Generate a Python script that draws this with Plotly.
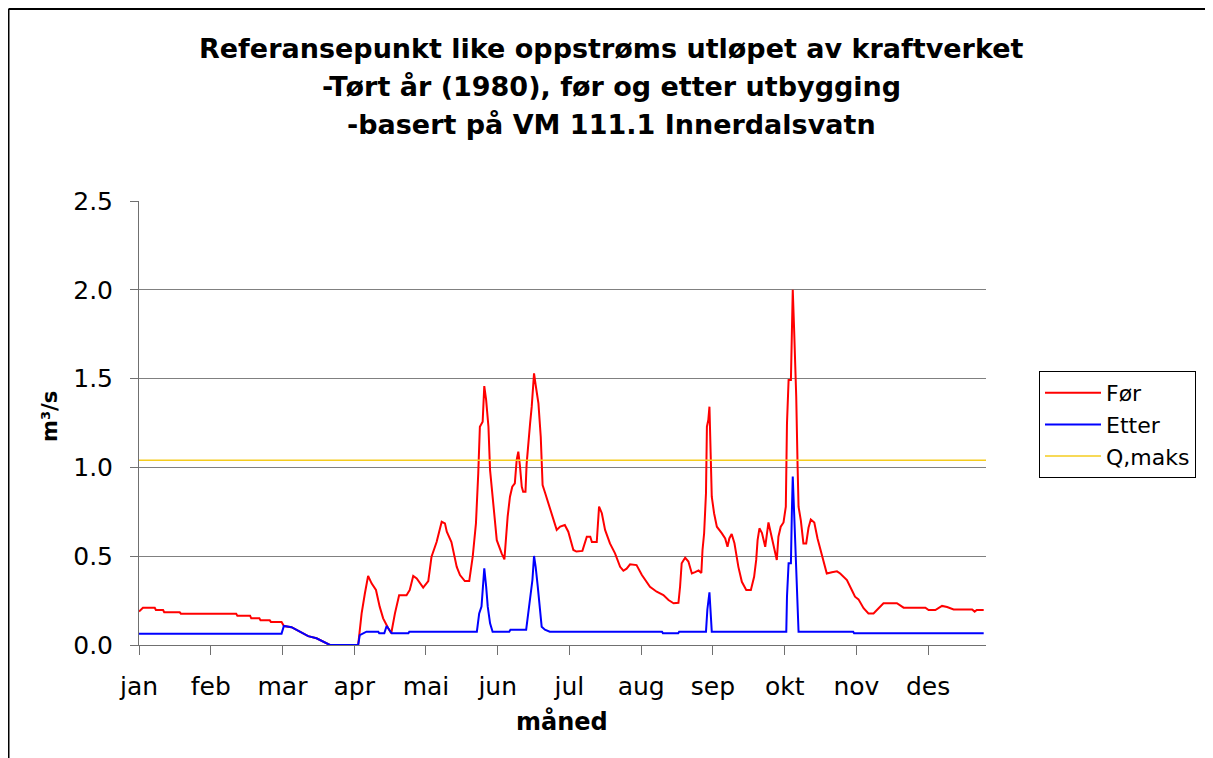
import plotly.graph_objects as go

# day index (0 = 1 jan 1980) and flow in m3/s
for_days = [0, 1.7, 6.8, 7.3, 10.4, 10.9, 17.6, 18.1, 42, 42.5, 48, 48.5, 52, 52.5, 56.5, 57, 61.6,
            62.6, 65.9, 69.5, 73.1, 76.7, 79.6, 82.5, 94.7, 96.2, 97.6, 99, 100.5, 102.4, 104, 105.5,
            107.7, 109, 110.6, 112.4, 115.6, 117, 118.5, 120, 122.8, 125, 126.4, 128.6, 130.8, 132.2,
            133, 135, 137.3, 138.7, 140.8, 142.7, 144.2, 145.6, 146.6, 147.3, 148.5, 149.2, 150, 151,
            151.7, 153, 154.6, 156.7, 157.9, 159.3, 160.3, 161.3, 162.4, 163.2, 163.9, 164.6, 165.4,
            166, 167, 167.5, 168.2, 169, 169.7, 170.7, 171.4, 172.6, 173.6, 174.4, 175.4, 176.9, 179,
            180.5, 182, 184, 185.5, 187.7, 189, 191.6, 193.5, 195, 195.7, 197.8, 198.8, 200, 201.4,
            203.5, 205.7, 207.9, 209.3, 210.7, 212.2, 215, 217.3, 220.8, 223.7, 226.6, 228.8, 231,
            233.1, 233.8, 234.5, 236, 237.4, 238.9, 240.3, 241.8, 243, 243.5, 244.2, 245, 245.4, 246,
            246.5, 246.8, 247.5, 248.5, 249.7, 251.8, 253.3, 254.3, 255.1, 256.1, 257.3, 259, 260.5,
            262.4, 264.4, 265.8, 266.7, 267.3, 268.1, 269.2, 270.6, 272, 273.4, 274.9, 275.6, 276.3,
            277.3, 278.5, 279.5, 280, 280.7, 281.7, 282.1, 282.5, 283.1, 284, 284.6, 285, 286, 287.1,
            288.3, 289.3, 290.3, 291.8, 293.2, 295.1, 296.5, 297.2, 299.4, 301.6, 303, 305.9, 308,
            309.4, 310.9, 313.1, 315.2, 317.4, 319.6, 321.7, 327.5, 330.4, 339.8, 341.2, 344.1, 345.5,
            347, 349.2, 352, 360, 361.1, 362, 365]
for_vals = [0.188, 0.21, 0.21, 0.197, 0.197, 0.184, 0.184, 0.176, 0.176, 0.165, 0.165, 0.15, 0.15,
            0.139, 0.139, 0.13, 0.13, 0.107, 0.1, 0.075, 0.05, 0.038, 0.019, 0.0, 0.0, 0.178, 0.29,
            0.389, 0.347, 0.31, 0.216, 0.15, 0.094, 0.066, 0.178, 0.28, 0.28, 0.31, 0.389, 0.375,
            0.323, 0.36, 0.497, 0.58, 0.694, 0.685, 0.638, 0.58, 0.44, 0.394, 0.36, 0.36, 0.497,
            0.685, 0.967, 1.229, 1.257, 1.458, 1.38, 1.229, 0.985, 0.798, 0.59, 0.516, 0.482, 0.723,
            0.835, 0.891, 0.91, 1.042, 1.089, 1.01, 0.891, 0.863, 0.863, 1.02, 1.154, 1.248, 1.342,
            1.53, 1.464, 1.36, 1.173, 0.9, 0.86, 0.798, 0.723, 0.648, 0.667, 0.676, 0.638, 0.535,
            0.526, 0.53, 0.61, 0.61, 0.58, 0.58, 0.779, 0.742, 0.648, 0.572, 0.516, 0.44, 0.418,
            0.43, 0.454, 0.45, 0.394, 0.328, 0.3, 0.281, 0.253, 0.235, 0.238, 0.328, 0.46, 0.492,
            0.47, 0.403, 0.41, 0.42, 0.405, 0.535, 0.629, 0.854, 1.229, 1.267, 1.342, 1.135, 0.835,
            0.742, 0.666, 0.63, 0.6, 0.553, 0.6, 0.625, 0.573, 0.44, 0.356, 0.31, 0.31, 0.384, 0.479,
            0.59, 0.657, 0.63, 0.553, 0.69, 0.6, 0.516, 0.479, 0.61, 0.666, 0.69, 0.779, 1.248, 1.492,
            1.492, 1.792, 2.0, 1.77, 1.398, 1.0, 0.779, 0.7, 0.572, 0.572, 0.66, 0.707, 0.69, 0.6,
            0.507, 0.44, 0.403, 0.41, 0.415, 0.403, 0.366, 0.31, 0.272, 0.257, 0.207, 0.178, 0.178,
            0.207, 0.235, 0.235, 0.21, 0.21, 0.197, 0.197, 0.21, 0.22, 0.214, 0.2, 0.2, 0.188, 0.197,
            0.197]

etter_days = [0, 61.6, 62.6, 65.9, 69.5, 73.1, 76.7, 79.6, 82.5, 94.7, 95.4, 98.3, 103.4, 103.8, 106,
              107, 109.2, 116.4, 116.8, 146, 147, 148, 149.2, 150, 150.7, 151.7, 152.8, 160, 160.5,
              167.3, 168.2, 169.3, 170, 170.7, 171.4, 172.3, 173.3, 174, 175.4, 177.5, 226, 226.4,
              233, 233.4, 245, 245.6, 246.5, 247, 247.5, 279.7, 280, 280.7, 281.7, 282.1, 282.5,
              283.1, 284, 284.6, 285, 308.6, 309, 365]
etter_vals = [0.064, 0.064, 0.107, 0.1, 0.075, 0.05, 0.038, 0.019, 0.0, 0.0, 0.056, 0.075, 0.075,
              0.066, 0.066, 0.107, 0.066, 0.066, 0.075, 0.075, 0.178, 0.216, 0.432, 0.33, 0.216,
              0.122, 0.075, 0.075, 0.086, 0.086, 0.178, 0.29, 0.366, 0.501, 0.44, 0.33, 0.216, 0.103,
              0.086, 0.075, 0.075, 0.066, 0.066, 0.075, 0.075, 0.2, 0.297, 0.178, 0.075, 0.075, 0.272,
              0.46, 0.46, 0.742, 0.948, 0.742, 0.366, 0.178, 0.075, 0.075, 0.066, 0.066]

qmaks_days = [0, 366]
qmaks_vals = [1.04, 1.04]

month_ticks = [0, 31, 62, 93, 124, 155, 186, 217, 248, 279, 310, 341]
month_names = ["jan", "feb", "mar", "apr", "mai", "jun", "jul", "aug", "sep", "okt", "nov", "des"]

FONT = "DejaVu Sans"

fig = go.Figure()
fig.add_trace(go.Scatter(x=for_days, y=for_vals, mode="lines", name="Før",
                         line=dict(color="#FF0000", width=2)))
fig.add_trace(go.Scatter(x=etter_days, y=etter_vals, mode="lines", name="Etter",
                         line=dict(color="#0000FF", width=2)))
fig.add_trace(go.Scatter(x=qmaks_days, y=qmaks_vals, mode="lines", name="Q,maks",
                         line=dict(color="#F5CC1F", width=1.5)))

# the page has an 8px body margin, so the figure starts at screen (8, 8)
# plot area on screen: x 139..986, y 201..645
OFF = 8
W, H = 1205, 750
L, T = 131, 193
pw, ph = 847, 444
R, B = W - L - pw, H - T - ph


def px(x):
    return (x - OFF - L) / pw


def py(y):
    return (T + ph - (y - OFF)) / ph


title_lines = ["Referansepunkt like oppstrøms utløpet av kraftverket",
               "-Tørt år (1980), før og etter utbygging",
               "-basert på VM 111.1 Innerdalsvatn"]
for line, ypix in zip(title_lines, [48, 87, 124]):
    fig.add_annotation(text="<b>%s</b>" % line, xref="paper", yref="paper",
                       x=px(611), y=py(ypix), xanchor="center", yanchor="middle",
                       showarrow=False, font=dict(family=FONT, size=27, color="black"))

fig.add_annotation(text="<b>måned</b>", xref="paper", yref="paper", x=px(562), y=py(721),
                   xanchor="center", yanchor="middle", showarrow=False,
                   font=dict(family=FONT, size=24, color="black"))
fig.add_annotation(text="<b>m³/s</b>", xref="paper", yref="paper", x=px(50), y=py(417),
                   xanchor="center", yanchor="middle", showarrow=False, textangle=-90,
                   font=dict(family=FONT, size=21, color="black"))

# outer chart border: only the top and left edges are inside the window
fig.add_shape(type="line", xref="paper", yref="paper", x0=px(8.5), x1=px(1240),
              y0=py(9), y1=py(9), line=dict(color="black", width=2))
fig.add_shape(type="line", xref="paper", yref="paper", x0=px(8.5), x1=px(8.5),
              y0=py(790), y1=py(9), line=dict(color="black", width=2))

fig.update_layout(
    width=W, height=H,
    margin=dict(l=L, r=R, t=T, b=B),
    paper_bgcolor="white", plot_bgcolor="white",
    font=dict(family=FONT, size=25, color="black"),
    showlegend=True,
    legend=dict(x=px(1039), y=py(371), xanchor="left", yanchor="top",
                bordercolor="black", borderwidth=1, bgcolor="white",
                itemwidth=56, font=dict(family=FONT, size=22)),
)
fig.update_xaxes(range=[0, 366], tickmode="array", tickvals=month_ticks, ticktext=month_names,
                 showgrid=False, zeroline=False, showline=True, linecolor="#707070", linewidth=1,
                 ticks="outside", ticklen=9, tickcolor="#707070", ticklabelstandoff=10,
                 tickfont=dict(size=25))
fig.update_yaxes(range=[0, 2.5], tickvals=[0, 0.5, 1.0, 1.5, 2.0, 2.5], tickformat=".1f",
                 showgrid=True, gridcolor="#808080", gridwidth=1, zeroline=False,
                 showline=True, linecolor="#707070", linewidth=1,
                 ticks="outside", ticklen=8, tickcolor="#707070", ticklabelstandoff=12,
                 tickfont=dict(size=25))

fig.write_html("out.html")
